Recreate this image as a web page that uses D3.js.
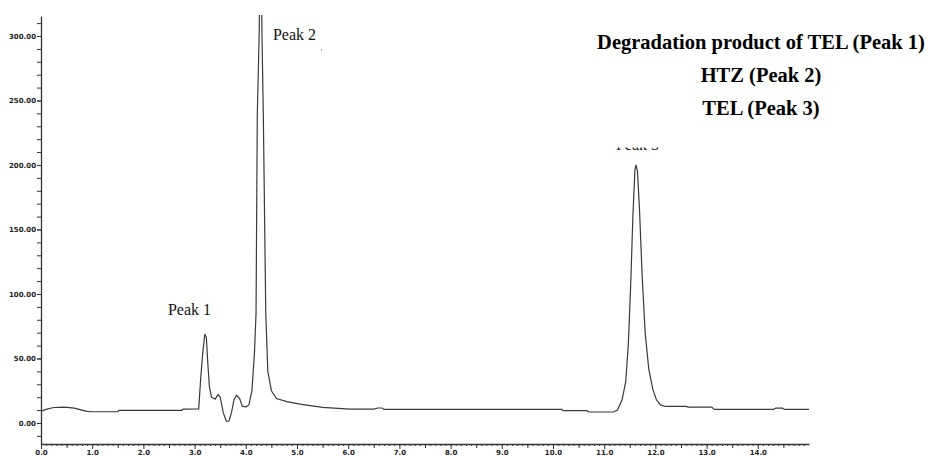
<!DOCTYPE html>
<html>
<head>
<meta charset="utf-8">
<script src="https://cdn.jsdelivr.net/npm/d3@7"></script>
<style>
  body { margin: 0; background: #fff; }
</style>
</head>
<body>
<script>
// retention time (min) and detector signal
var times = [0, 0.1, 0.25, 0.45, 0.65, 0.8, 0.9, 1.0, 1.5, 1.52, 2.75, 2.78, 3.08,
  3.12, 3.16, 3.2, 3.23, 3.26, 3.29, 3.33, 3.4, 3.46, 3.5, 3.56, 3.62, 3.67, 3.72,
  3.77, 3.82, 3.88, 3.93, 4.0, 4.06, 4.12, 4.17, 4.2, 4.225, 4.26, 4.275, 4.305,
  4.316, 4.342, 4.39, 4.43, 4.5, 4.6, 4.8, 5.06, 5.5, 6.03, 6.5, 6.58, 6.66, 6.7,
  10.17, 10.2, 10.66, 10.7, 11.18, 11.26, 11.35, 11.42, 11.47, 11.52, 11.56, 11.6,
  11.62, 11.65, 11.69, 11.74, 11.8, 11.87, 11.95, 12.02, 12.1, 12.2, 12.6, 12.64,
  13.1, 13.15, 14.3, 14.35, 14.48, 14.52, 15.0];
var signal = [9.2, 10.5, 12.0, 12.3, 11.5, 10.0, 9.0, 8.7, 8.7, 9.8, 9.8, 10.8, 11.0,
  35, 55, 69, 66, 45, 28, 20, 18.5, 22, 20, 8, 1.2, 1.5, 8,
  18, 21.5, 19, 13, 12.5, 14, 25, 55, 85, 240, 300, 345, 345,
  300, 240, 85, 40, 25, 19, 16.5, 14.6, 12.1, 10.8, 10.8, 11.6, 11.6, 10.5,
  10.5, 9.5, 9.5, 8.5, 8.5, 10, 18, 32, 60, 110, 160, 196,
  200, 195, 165, 115, 70, 42, 26, 18, 14, 12.8, 12.8, 12.3,
  12.3, 10.5, 10.5, 11.5, 11.5, 10.5, 10.5];

var yTickValues = [0, 50, 100, 150, 200, 250, 300];
var xTickValues = [0, 1, 2, 3, 4, 5, 6, 7, 8, 9, 10, 11, 12, 13, 14];

var peakNames = ["Peak 1", "Peak 2", "Peak 3"];
var peakLabelTime = [2.9, 4.53, 11.65];
var peakLabelValue = [83.7, 296.9, 212];

var legendLines = ["Degradation product of TEL (Peak 1)", "HTZ (Peak 2)", "TEL (Peak 3)"];

var serif = "'Liberation Serif', 'Times New Roman', 'DejaVu Serif', serif";

var width = 934;
var height = 457;

var data = times.map(function(t, i) { return {t: t, v: signal[i]}; });

var svg = d3.select("body")
  .append("svg")
  .attr("width", width)
  .attr("height", height);

//Scales
var x = d3.scaleLinear().domain([0, 15]).range([41, 809]);
var y = d3.scaleLinear().domain([-16.3, 315.5]).range([444, 16]);

svg.append("clipPath")
  .attr("id", "plotclip")
  .append("rect")
  .attr("x", 41)
  .attr("y", 15)
  .attr("width", 770)
  .attr("height", 430);

//Chromatogram trace
var line = d3.line()
  .x(function(d) { return x(d.t); })
  .y(function(d) { return y(d.v); });

svg.append("path")
  .datum(data)
  .attr("clip-path", "url(#plotclip)")
  .attr("fill", "none")
  .attr("stroke", "#3a3a3a")
  .attr("stroke-width", 1.2)
  .attr("d", line);

//Y axis: minor ticks every 10, labels every 50
svg.append("g")
  .attr("transform", "translate(41,0)")
  .call(d3.axisLeft(y).tickValues(d3.range(-10, 311, 10)).tickSize(4).tickSizeOuter(0).tickFormat(""))
  .call(function(g) { g.selectAll("line").attr("stroke", "#333"); g.select(".domain").attr("stroke", "#333").attr("stroke-width", 1.3); });

svg.append("g")
  .attr("transform", "translate(41,0)")
  .call(d3.axisLeft(y).tickValues(yTickValues).tickSize(4).tickPadding(1).tickFormat(d3.format(".2f")))
  .call(function(g) {
    g.select(".domain").remove();
    g.selectAll("line").attr("stroke", "#333");
    g.selectAll("text").attr("font-family", "DejaVu Sans").attr("font-size", "7px").attr("font-weight", "bold").attr("fill", "#222");
  });

//X axis: minor 0.1, half 0.5, labelled every 1.0
svg.append("g")
  .attr("transform", "translate(0,444)")
  .call(d3.axisBottom(x).tickValues(d3.range(0, 150).map(function(i) { return i / 10; })).tickSize(2).tickSizeOuter(0).tickFormat(""))
  .call(function(g) { g.selectAll("line").attr("stroke", "#333"); g.select(".domain").attr("stroke", "#333").attr("stroke-width", 1.3); });

svg.append("g")
  .attr("transform", "translate(0,444)")
  .call(d3.axisBottom(x).tickValues(xTickValues.map(function(d) { return d + 0.5; })).tickSize(4).tickFormat(""))
  .call(function(g) { g.select(".domain").remove(); g.selectAll("line").attr("stroke", "#333"); });

svg.append("g")
  .attr("transform", "translate(0,444)")
  .call(d3.axisBottom(x).tickValues(xTickValues).tickSize(5).tickPadding(1).tickFormat(d3.format(".1f")))
  .call(function(g) {
    g.select(".domain").remove();
    g.selectAll("line").attr("stroke", "#333");
    g.selectAll("text").attr("font-family", "DejaVu Sans").attr("font-size", "7px").attr("font-weight", "bold").attr("fill", "#222");
  });

//Peak annotations
svg.selectAll(".peaklabel")
  .data(peakNames)
  .enter()
  .append("text")
  .attr("class", "peaklabel")
  .attr("x", function(d, i) { return x(peakLabelTime[i]); })
  .attr("y", function(d, i) { return y(peakLabelValue[i]); })
  .attr("text-anchor", function(d, i) { return i == 1 ? "start" : "middle"; })
  .style("font-family", serif)
  .style("font-size", "16px")
  .attr("fill", "#111")
  .text(function(d) { return d; });

// stray speck next to Peak 2
svg.append("rect")
  .attr("x", 321)
  .attr("y", 49.5)
  .attr("width", 1)
  .attr("height", 1)
  .attr("fill", "#555");

//Legend box (white, hides the top of the Peak 3 label)
svg.append("rect")
  .attr("x", 560)
  .attr("y", 0)
  .attr("width", 374)
  .attr("height", 147.5)
  .attr("fill", "#fff");

svg.selectAll(".legendline")
  .data(legendLines)
  .enter()
  .append("text")
  .attr("class", "legendline")
  .attr("x", 761)
  .attr("y", function(d, i) { return 48.5 + i * 33.2; })
  .attr("text-anchor", "middle")
  .style("font-family", serif)
  .style("font-weight", "bold")
  .style("font-size", "20.5px")
  .attr("fill", "#000")
  .text(function(d) { return d; });
</script>
</body>
</html>
